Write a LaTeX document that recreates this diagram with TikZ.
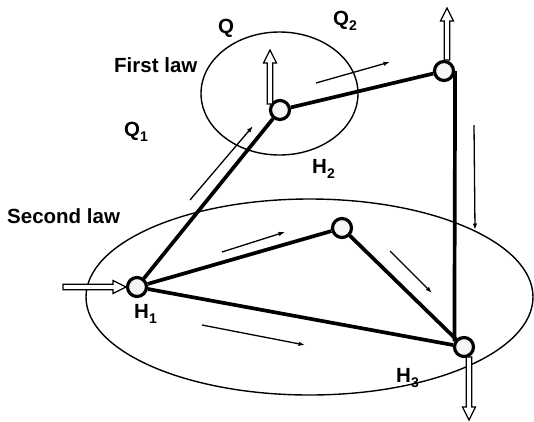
\documentclass[tikz,border=0pt]{standalone}
\usepackage{fontspec}
\setmainfont{Liberation Sans}
\usetikzlibrary{arrows.meta,backgrounds}
\newcommand\lsub[1]{\raisebox{-5pt}{\fontsize{14}{14}\selectfont #1}}
\newcommand\hollowarrow[3]{%
  \draw[hollow, shift={#1}, rotate=#2] (0,-2.8) -- (#3-13,-2.8) -- (#3-13,-6.5) -- (#3,0) -- (#3-13,6.5) -- (#3-13,2.8) -- (0,2.8) -- cycle;}
\begin{document}
\begin{tikzpicture}[x=1pt,y=-1pt,
  state/.style={circle, draw, line width=3.2pt, fill=gray!8, minimum size=19pt, inner sep=0pt},
  link/.style={line width=3.7pt},
  flow/.style={line width=1.3pt, -{Latex[length=6.5pt,width=4.5pt]}},
  lbl/.style={inner sep=0pt, anchor=base west, font=\fontsize{20.5}{24}\selectfont\bfseries},
  hollow/.style={draw, line width=1.2pt, fill=white, line join=miter},
  region/.style={line width=1.4pt}
]
\useasboundingbox (0,0) rectangle (534,421);
% states
\node[state] (h2) at (280,110) {};
\node[state] (tr) at (444,71) {};
\node[state] (h1) at (137,287) {};
\node[state] (mid) at (342,228) {};
\node[state] (h3) at (464,347) {};
\begin{scope}[on background layer]
  \draw[region] (279.5,93.5) ellipse [x radius=78.5pt, y radius=61.5pt];
  \draw[region] (309.5,297) ellipse [x radius=223.5pt, y radius=98pt];
  \draw[link] (h1) -- (h2);
  \draw[link] (h2) -- (tr);
  \draw[link] (h1) -- (mid);
  \draw[link] (h1) -- (h3);
  \draw[link] (mid) -- (h3);
  \draw[link] (tr.east) -- (h3.150);
\end{scope}
% thin flow arrows
\coordinate (f1a) at (190,200); \coordinate (f1b) at (253,126);
\coordinate (f2a) at (316,83);  \coordinate (f2b) at (390,62);
\coordinate (f3a) at (474,125); \coordinate (f3b) at (475,230);
\coordinate (f4a) at (222,252); \coordinate (f4b) at (285,232);
\coordinate (f5a) at (390,251); \coordinate (f5b) at (432,293);
\coordinate (f6a) at (202,325); \coordinate (f6b) at (305,345);
\draw[flow] (f1a) -- (f1b);
\draw[flow] (f2a) -- (f2b);
\draw[flow] (f3a) -- (f3b);
\draw[flow] (f4a) -- (f4b);
\draw[flow] (f5a) -- (f5b);
\draw[flow] (f6a) -- (f6b);
% hollow arrows
\hollowarrow{(63,287)}{0}{63}
\hollowarrow{(270,104)}{90}{54}
\hollowarrow{(447,60)}{90}{52}
\hollowarrow{(469,357)}{-90}{63}
% labels
\node[lbl] (lq) at (218,33) {Q};
\node[lbl] (lq2) at (333,25) {Q\lsub{2}};
\node[lbl] (lfirst) at (114,72) {First law};
\node[lbl] (lq1) at (124,136) {Q\lsub{1}};
\node[lbl] (lh2) at (312,173) {H\lsub{2}};
\node[lbl] (lsecond) at (7,223) {Second law};
\node[lbl] (lh1) at (134,318) {H\lsub{1}};
\node[lbl] (lh3) at (396,382) {H\lsub{3}};
\end{tikzpicture}
\end{document}
